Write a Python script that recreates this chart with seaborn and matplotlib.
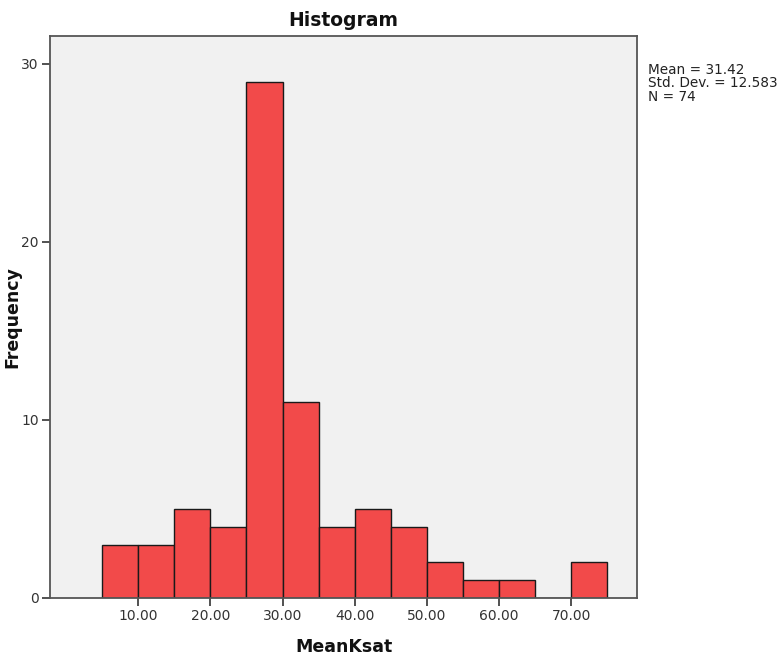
import matplotlib
matplotlib.use("Agg")
import matplotlib.pyplot as plt
import seaborn as sns

# MeanKsat histogram: bin edges (width 5) and frequency per bin
bin_edges = [5, 10, 15, 20, 25, 30, 35, 40, 45, 50, 55, 60, 65, 70, 75]
frequencies = [3, 3, 5, 4, 29, 11, 4, 5, 4, 2, 1, 1, 0, 2]
x_ticks = [10, 20, 30, 40, 50, 60, 70]
x_tick_labels = ["10.00", "20.00", "30.00", "40.00", "50.00", "60.00", "70.00"]
y_ticks = [0, 10, 20, 30]
stats_text = "Mean = 31.42\nStd. Dev. = 12.583\nN = 74"

sns.set_style("white")
plt.rcParams["font.family"] = ["DejaVu Sans"]

fig = plt.figure(figsize=(7.84, 6.62), dpi=100)
ax = fig.add_axes([0.0638, 0.0967, 0.7487, 0.8489])
ax.set_facecolor("#f1f1f1")

centers = [(a + b) / 2 for a, b in zip(bin_edges[:-1], bin_edges[1:])]
sns.histplot(x=centers, weights=frequencies, bins=bin_edges, ax=ax,
             color="#f24a4a", alpha=1.0, edgecolor="#1a1a1a", linewidth=1.0)

ax.set_xlim(-2.2, 79.1)
ax.set_ylim(0, 31.57)
ax.set_xticks(x_ticks)
ax.set_xticklabels(x_tick_labels)
ax.set_yticks(y_ticks)
ax.tick_params(axis="both", direction="out", length=6, width=1.2,
               color="#333333", labelsize=10, labelcolor="#333333", pad=2,
               bottom=True, left=True)

for s in ax.spines.values():
    s.set_color("#555555")
    s.set_linewidth(1.3)

ax.set_title("Histogram", fontsize=13.5, fontweight="bold", pad=7, color="#111111")
ax.set_xlabel("MeanKsat", fontsize=12.5, fontweight="bold", color="#111111")
ax.set_ylabel("Frequency", fontsize=12.5, fontweight="bold", color="#111111")
ax.xaxis.set_label_coords(0.5, -0.072)
ax.yaxis.set_label_coords(-0.048, 0.5)

fig.text(648 / 784, 1 - 63 / 662, stats_text, fontsize=9.8, va="top", ha="left",
         color="#222222", linespacing=0.95)

fig.savefig("out.png", dpi=100, facecolor="white")
